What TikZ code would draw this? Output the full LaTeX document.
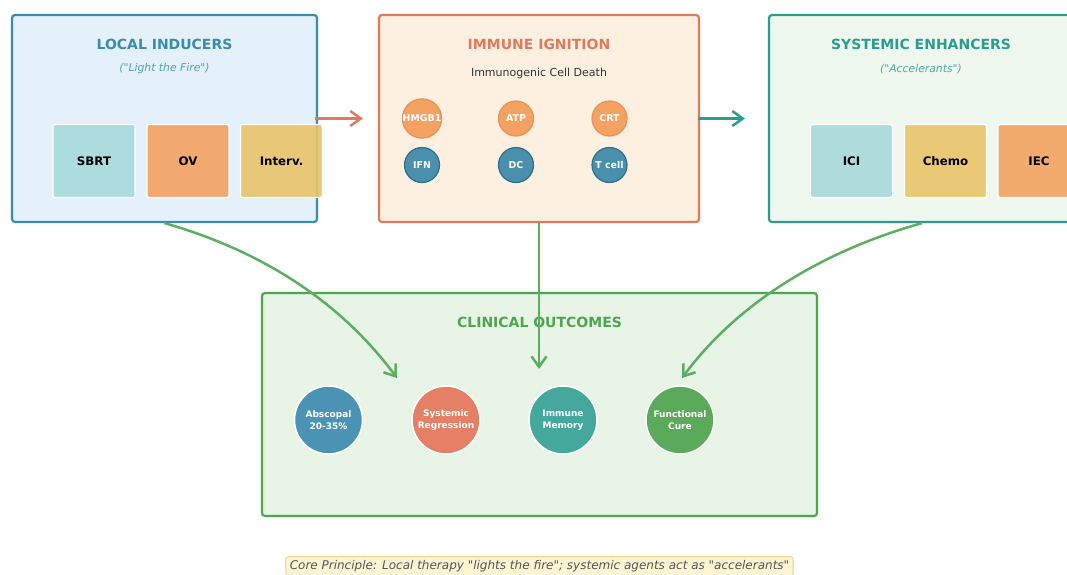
\documentclass[tikz,border=0pt]{standalone}
\usepackage{fontspec}
\setmainfont{DejaVu Sans}[Ligatures=TeXOff]
\usetikzlibrary{arrows.meta}
\definecolor{lblue}{HTML}{3A8CAE}
\definecolor{lfill}{HTML}{E4F1FB}
\definecolor{coral}{HTML}{E07A5F}
\definecolor{ifill}{HTML}{FDF0E1}
\definecolor{teal}{HTML}{2A9D8F}
\definecolor{sfill}{HTML}{EFF8EE}
\definecolor{cgreen}{HTML}{4EA64E}
\definecolor{cfill}{HTML}{E7F4E6}
\definecolor{boxteal}{HTML}{A8DADC}
\definecolor{boxorange}{HTML}{F4A261}
\definecolor{boxyellow}{HTML}{E9C46A}
\definecolor{cblue}{HTML}{4A90AD}
\definecolor{cbluedark}{HTML}{2E6F8C}
\definecolor{corangedark}{HTML}{E8935A}
\definecolor{oblue}{HTML}{4A93B5}
\definecolor{ocoral}{HTML}{E57F66}
\definecolor{oteal}{HTML}{45A89C}
\definecolor{ogreen}{HTML}{5BAA5B}
\definecolor{arrgreen}{HTML}{5DAE61}
\definecolor{notefill}{HTML}{FDF4D3}
\definecolor{notedraw}{HTML}{EDD48A}
\definecolor{notetext}{HTML}{555555}
\definecolor{subtext}{HTML}{333333}
\begin{document}
\begin{tikzpicture}[x=1pt,y=-1pt,
  panel/.style={draw, line width=2.2pt, rounded corners=3pt, inner sep=0pt},
  ptitle/.style={font=\fontsize{14}{16}\selectfont\bfseries, inner sep=0pt},
  psub/.style={font=\fontsize{10.8}{12}\selectfont\itshape, inner sep=0pt},
  agent/.style={draw=white, line width=1.2pt, rounded corners=1.5pt, minimum width=82pt, minimum height=73pt, inner sep=0pt, fill opacity=0.9, text opacity=1, font=\fontsize{11.8}{14}\selectfont\bfseries},
  signal/.style={circle, line width=1.2pt, minimum size=35pt, inner sep=0pt, text=white, font=\fontsize{9.4}{10}\selectfont\bfseries},
  outcome/.style={circle, draw=white, line width=1.5pt, minimum size=68pt, inner sep=0pt, text=white, align=center, font=\fontsize{9}{12}\selectfont\bfseries},
  flow/.style={line width=2.5pt, -{Straight Barb[length=10.5pt,width=15pt,line width=2.5pt]}},
]
\useasboundingbox (0,0) rectangle (1067,574);
\clip (0,0) rectangle (1067,574);

% panels
\node[panel, draw=lblue, fill=lfill, minimum width=305pt, minimum height=207pt] (lbox) at (164.5,118.5) {};
\node[panel, draw=coral, fill=ifill, minimum width=320pt, minimum height=207pt] (ibox) at (539,118.5) {};
\node[panel, draw=teal, fill=sfill, minimum width=320pt, minimum height=207pt] (sbox) at (929,118.5) {};
\node[panel, draw=cgreen, fill=cfill, minimum width=555pt, minimum height=223pt] (cbox) at (539.5,404.5) {};

% local inducers
\node[ptitle, text=lblue] (ltitle) at (164.5,44) {LOCAL INDUCERS};
\node[psub, text=lblue!85] (lsub) at (164.5,69) {("Light the Fire")};
\node[agent, fill=boxteal] (sbrt) at (94,161) {SBRT};
\node[agent, fill=boxorange] (ov) at (188,161) {OV};
\node[agent, fill=boxyellow] (interv) at (281.5,161) {Interv.};

% immune ignition
\node[ptitle, text=coral] (ititle) at (539,44) {IMMUNE IGNITION};
\node[inner sep=0pt, text=subtext, font=\fontsize{11}{12}\selectfont] (isub) at (539,73) {Immunogenic Cell Death};
\node[signal, fill=boxorange, draw=corangedark] (hmgb) at (422,118.5) {HMGB1};
\node[signal, fill=boxorange, draw=corangedark] (atp) at (516,118.5) {ATP};
\node[signal, fill=boxorange, draw=corangedark] (crt) at (609.5,118.5) {CRT};
\node[signal, fill=cblue, draw=cbluedark] (ifn) at (422,165) {IFN};
\node[signal, fill=cblue, draw=cbluedark] (dc) at (516,165) {DC};
\node[signal, fill=cblue, draw=cbluedark] (tcell) at (609.5,165) {T cell};

% systemic enhancers
\node[ptitle, text=teal] (stitle) at (921,44) {SYSTEMIC ENHANCERS};
\node[psub, text=teal!85] (ssub) at (921,69) {("Accelerants")};
\node[agent, fill=boxteal] (ici) at (851.5,161) {ICI};
\node[agent, fill=boxyellow] (chemo) at (945.5,161) {Chemo};
\node[agent, fill=boxorange] (iec) at (1039,161) {IEC};

% clinical outcomes
\node[ptitle, text=cgreen] (ctitle) at (539.5,322) {CLINICAL OUTCOMES};
\node[outcome, fill=oblue] (absc) at (328.5,420) {Abscopal\\20-35\%};
\node[outcome, fill=ocoral] (sreg) at (446,420) {Systemic\\Regression};
\node[outcome, fill=oteal] (imem) at (563,420) {Immune\\Memory};
\node[outcome, fill=ogreen] (fcure) at (680,420) {Functional\\Cure};

% connectors
\draw[flow, coral, shorten <=-3pt, shorten >=15pt] (lbox.east) -- (ibox.west);
\draw[flow, teal, shorten <=-2pt, shorten >=23pt] (ibox.east) -- (sbox.west);

\coordinate (tipL) at (397,378);
\coordinate (tipM) at (539,369);
\coordinate (tipR) at (682,378);
\draw[flow, arrgreen] (lbox.south) .. controls (266,252) and (343,305) .. (tipL);
\draw[flow, arrgreen] (ibox.south) -- (tipM);
\draw[flow, arrgreen] ([xshift=-7pt]sbox.south) .. controls (819,252) and (736,305) .. (tipR);

% note
\node[draw=notedraw, fill=notefill, line width=1pt, rounded corners=3pt, text=notetext, inner xsep=4pt, minimum height=20pt, font=\fontsize{12}{13}\selectfont\itshape, anchor=north] (note) at (539.5,556) {Core Principle: Local therapy "lights the fire"; systemic agents act as "accelerants"};
\end{tikzpicture}
\end{document}
